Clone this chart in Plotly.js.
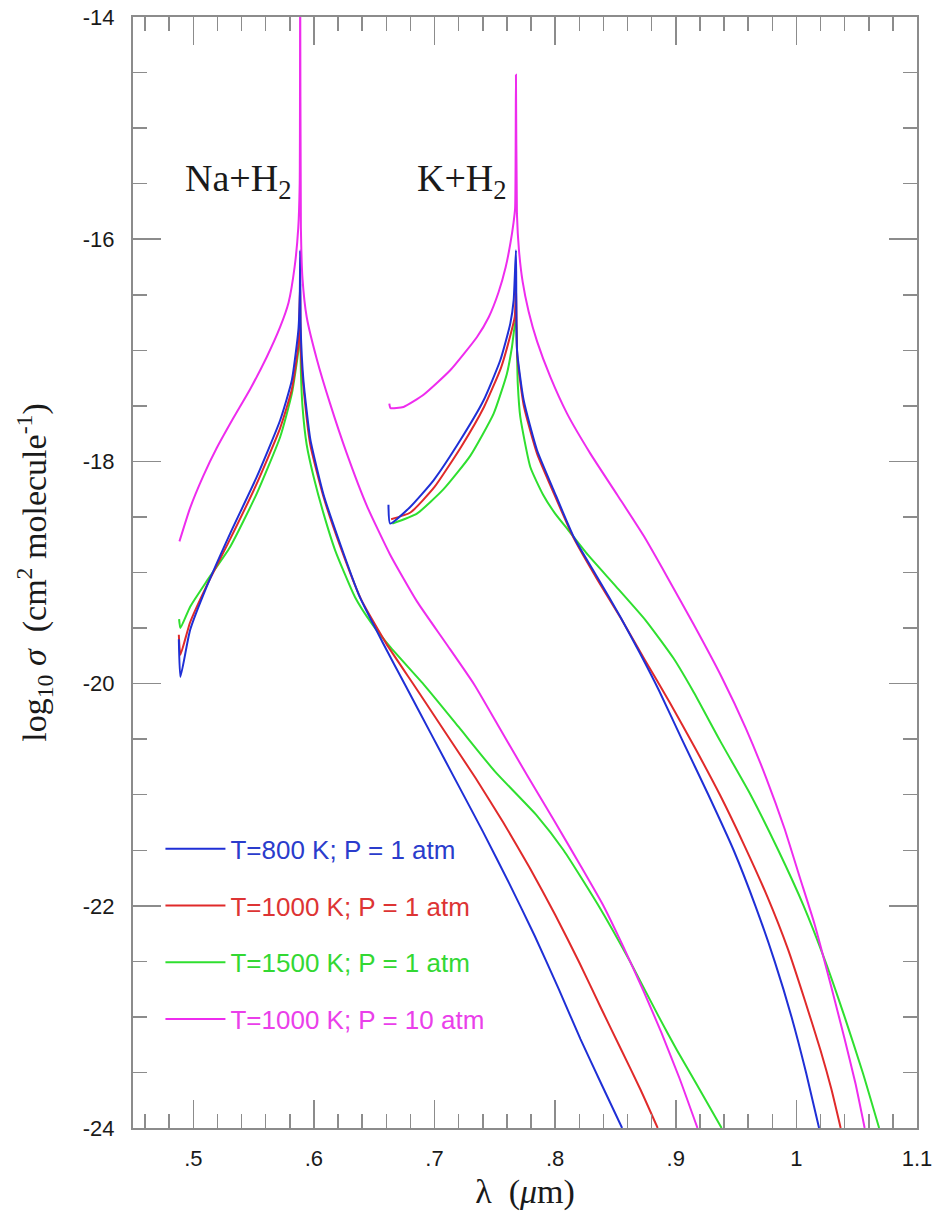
<!DOCTYPE html>
<html>
<head>
<meta charset="utf-8">
<script src="https://cdn.plot.ly/plotly-3.0.1.min.js"></script>
<style>
  html, body { margin: 0; padding: 0; background: #ffffff; }
  #chart { width: 934px; height: 1212px; }
</style>
</head>
<body>
<div id="chart"></div>
<script>
// ---------- data ----------
const seriesNames = [
  "T=800 K; P = 1 atm",
  "T=1000 K; P = 1 atm",
  "T=1500 K; P = 1 atm",
  "T=1000 K; P = 10 atm"
];
const seriesColors = ["#1f2fd6", "#e02a2a", "#2fdf2f", "#ee2cee"];
const labelColors  = ["#2a3ccc", "#dd3434", "#33d833", "#ea3fea"];

const xTickVals  = [0.5, 0.6, 0.7, 0.8, 0.9, 1.0, 1.1];
const xTickText  = [".5", ".6", ".7", ".8", ".9", "1", "1.1"];
const yTickVals  = [-24, -22, -20, -18, -16, -14];
const yTickText  = ["-24", "-22", "-20", "-18", "-16", "-14"];

// Na + H2, T=800 K, P=1 atm
const naBlueX = [0.4880, 0.4893, 0.4973, 0.511, 0.5305, 0.5526, 0.572, 0.5817, 0.5871, 0.5883, 0.5886,
                 0.5890, 0.5913, 0.597, 0.608, 0.622, 0.638, 0.657, 0.676, 0.697, 0.718, 0.740, 0.762, 0.783, 0.803, 0.821, 0.839, 0.8555];
const naBlueY = [-19.60, -19.94, -19.52, -19.13, -18.65, -18.14, -17.63, -17.27, -16.82, -16.5, -16.1,
                 -16.8, -17.27, -17.8, -18.3, -18.75, -19.22, -19.63, -20.02, -20.45, -20.88, -21.33, -21.80, -22.27, -22.75, -23.20, -23.62, -24.0];
// Na + H2, T=1000 K, P=1 atm
const naRedX = [0.4880, 0.4893, 0.4973, 0.511, 0.5305, 0.5526, 0.572, 0.5817, 0.5871, 0.5886,
                0.5891, 0.5915, 0.597, 0.608, 0.622, 0.639, 0.660, 0.684, 0.709, 0.734, 0.757, 0.779, 0.800, 0.820, 0.838, 0.855, 0.871, 0.885];
const naRedY = [-19.56, -19.74, -19.45, -19.12, -18.70, -18.20, -17.70, -17.35, -16.95, -16.4,
                -17.0, -17.35, -17.85, -18.32, -18.77, -19.24, -19.64, -20.03, -20.44, -20.85, -21.25, -21.66, -22.08, -22.51, -22.92, -23.30, -23.66, -24.0];
// Na + H2, T=1500 K, P=1 atm
const naGreenX = [0.4882, 0.4893, 0.4973, 0.511, 0.5305, 0.5526, 0.572, 0.5817, 0.5871, 0.5886,
                  0.5892, 0.5905, 0.594, 0.600, 0.608, 0.6176, 0.634, 0.648, 0.6632, 0.692, 0.720, 0.750, 0.785, 0.807, 0.836, 0.862, 0.886, 0.901, 0.918, 0.938];
const naGreenY = [-19.42, -19.50, -19.31, -19.08, -18.77, -18.29, -17.78, -17.39, -17.0, -16.7,
                  -17.2, -17.5, -17.85, -18.15, -18.47, -18.80, -19.22, -19.46, -19.67, -20.02, -20.39, -20.79, -21.19, -21.50, -22.0, -22.5, -23.0, -23.3, -23.62, -24.0];
// Na + H2, T=1000 K, P=10 atm
const naMagX = [0.4885, 0.4973, 0.5083, 0.5194, 0.5332, 0.5471, 0.5609, 0.572, 0.579, 0.5840, 0.5870, 0.5882, 0.5886,
                0.5892, 0.5905, 0.594, 0.6024, 0.6134, 0.6273, 0.6439, 0.6632, 0.6854, 0.709, 0.733, 0.755, 0.777, 0.799, 0.820, 0.840, 0.857, 0.873, 0.888, 0.903, 0.918];
const naMagY = [-18.72, -18.42, -18.13, -17.88, -17.61, -17.35, -17.06, -16.79, -16.57, -16.25, -15.9, -15.5, -13.5,
                -15.9, -16.35, -16.70, -17.08, -17.48, -17.93, -18.40, -18.84, -19.26, -19.63, -20.01, -20.42, -20.83, -21.23, -21.62, -22.0, -22.38, -22.76, -23.14, -23.55, -24.0];

// K + H2, T=800 K, P=1 atm
const kBlueX = [0.6618, 0.6632, 0.6798, 0.6992, 0.7213, 0.7407, 0.7545, 0.7628, 0.7656, 0.7675,
                0.7684, 0.7739, 0.785, 0.7988, 0.8154, 0.8348, 0.8541, 0.870, 0.886, 0.905, 0.927, 0.948, 0.966, 0.982, 0.996, 1.008, 1.0188];
const kBlueY = [-18.39, -18.56, -18.41, -18.17, -17.81, -17.45, -17.09, -16.76, -16.55, -16.1,
                -17.0, -17.45, -17.90, -18.26, -18.68, -19.04, -19.40, -19.72, -20.06, -20.5, -21.0, -21.5, -22.0, -22.5, -23.0, -23.5, -24.0];
// K + H2, T=1000 K, P=1 atm
const kRedX = [0.6640, 0.680, 0.700, 0.722, 0.741, 0.755, 0.763, 0.7665, 0.7675,
               0.7686, 0.774, 0.785, 0.799, 0.8154, 0.8348, 0.855, 0.874, 0.895, 0.916, 0.937, 0.957, 0.976, 0.993, 1.007, 1.020, 1.029, 1.0367];
const kRedY = [-18.52, -18.46, -18.23, -17.87, -17.51, -17.16, -16.86, -16.7, -16.4,
               -17.05, -17.5, -17.93, -18.29, -18.69, -19.06, -19.42, -19.78, -20.17, -20.58, -21.01, -21.46, -21.92, -22.39, -22.85, -23.30, -23.65, -24.0];
// K + H2, T=1500 K, P=1 atm
const kGreenX = [0.6650, 0.6854, 0.7075, 0.7296, 0.749, 0.760, 0.7642, 0.7675,
                 0.7690, 0.7711, 0.7794, 0.790, 0.800, 0.811, 0.827, 0.850, 0.875, 0.898, 0.915, 0.937, 0.962, 0.985, 1.006, 1.024, 1.040, 1.055, 1.0686];
const kGreenY = [-18.56, -18.47, -18.25, -17.95, -17.57, -17.21, -16.97, -16.7,
                 -17.3, -17.6, -18.05, -18.30, -18.47, -18.62, -18.84, -19.12, -19.43, -19.77, -20.08, -20.52, -21.0, -21.5, -22.0, -22.5, -23.0, -23.5, -24.0];
// K + H2, T=1000 K, P=10 atm
const kMagX = [0.6625, 0.6635, 0.6743, 0.6909, 0.713, 0.7352, 0.7450, 0.7530, 0.7590, 0.7630, 0.7655, 0.7668, 0.7675,
               0.7683, 0.7700, 0.7730, 0.7780, 0.7850, 0.796, 0.8099, 0.8292, 0.8514, 0.8734, 0.8929, 0.915, 0.938, 0.958, 0.975, 0.990, 1.003, 1.0152, 1.0287, 1.0400, 1.0490, 1.0566];
const kMagY = [-17.48, -17.52, -17.51, -17.40, -17.18, -16.88, -16.70, -16.48, -16.25, -16.03, -15.85, -15.72, -14.52,
               -15.77, -16.10, -16.38, -16.65, -16.92, -17.24, -17.57, -17.93, -18.30, -18.67, -19.04, -19.47, -19.94, -20.40, -20.85, -21.30, -21.75, -22.17, -22.72, -23.20, -23.60, -24.0];

const bandLabels = ["Na+H<sub>2</sub>", "K+H<sub>2</sub>"];
const bandLabelX = [0.537, 0.723];
const bandLabelY = [-15.48, -15.48];

// ---------- traces ----------
const naSets = [[naBlueX, naBlueY], [naRedX, naRedY], [naGreenX, naGreenY], [naMagX, naMagY]];
const kSets  = [[kBlueX, kBlueY], [kRedX, kRedY], [kGreenX, kGreenY], [kMagX, kMagY]];
const drawOrder = [2, 1, 0, 3];   // green, red, blue, magenta (magenta on top)

const traces = [];
drawOrder.forEach(function (i) {
  traces.push({
    type: "scatter", mode: "lines",
    x: naSets[i][0], y: naSets[i][1],
    line: { color: seriesColors[i], width: 2, shape: "spline", smoothing: 0.5 },
    name: '<span style="color:' + labelColors[i] + '">' + seriesNames[i] + '</span>',
    legendgroup: "g" + i, legendrank: i + 1, showlegend: true,
    hoverinfo: "skip"
  });
  traces.push({
    type: "scatter", mode: "lines",
    x: kSets[i][0], y: kSets[i][1],
    line: { color: seriesColors[i], width: 2, shape: "spline", smoothing: 0.5 },
    name: seriesNames[i], legendgroup: "g" + i, showlegend: false,
    hoverinfo: "skip"
  });
});

const axisGray = "#8c8c8c";
const tickFont = { family: "Liberation Sans, Arial, sans-serif", size: 22, color: "#1a1a1a" };
const serif = "Liberation Serif, Times New Roman, serif";

const layout = {
  width: 934, height: 1212,
  paper_bgcolor: "#ffffff", plot_bgcolor: "#ffffff",
  margin: { l: 133, r: 17, t: 17, b: 84, pad: 0 },
  showlegend: true,
  legend: {
    x: 0.035, y: 0.2725, xanchor: "left", yanchor: "top",
    bgcolor: "rgba(0,0,0,0)", borderwidth: 0,
    font: { family: "Liberation Sans, Arial, sans-serif", size: 26 },
    traceorder: "grouped", tracegroupgap: 20, itemwidth: 60
  },
  xaxis: {
    range: [0.45, 1.1], tickmode: "array", tickvals: xTickVals, ticktext: xTickText,
    ticks: "inside", ticklen: 28, tickwidth: 1.5, tickcolor: axisGray,
    showline: true, linecolor: axisGray, linewidth: 2, mirror: "allticks",
    showgrid: false, zeroline: false, tickfont: tickFont, ticklabelstandoff: 10,
    minor: { tickmode: "linear", tick0: 0.44, dtick: 0.02, ticks: "inside", ticklen: 14, tickwidth: 1.5, tickcolor: axisGray, showgrid: false },
    title: { text: "λ  (<i>μ</i>m)", font: { family: serif, size: 34, color: "#1a1a1a" }, standoff: 9 }
  },
  yaxis: {
    range: [-24, -14], tickmode: "array", tickvals: yTickVals, ticktext: yTickText,
    ticks: "inside", ticklen: 28, tickwidth: 1.5, tickcolor: axisGray,
    showline: true, linecolor: axisGray, linewidth: 2, mirror: "allticks",
    showgrid: false, zeroline: false, tickfont: tickFont, ticklabelstandoff: 12,
    minor: { tickmode: "linear", tick0: -24, dtick: 0.5, ticks: "inside", ticklen: 14, tickwidth: 1.5, tickcolor: axisGray, showgrid: false },
    title: { text: "log<sub>10</sub> <i>σ</i>  (cm<sup>2</sup> molecule<sup>-1</sup>)", font: { family: serif, size: 34, color: "#1a1a1a" }, standoff: 26 }
  },
  annotations: bandLabels.map(function (t, i) {
    return {
      text: t, x: bandLabelX[i], y: bandLabelY[i], xref: "x", yref: "y",
      showarrow: false, xanchor: "center", yanchor: "middle",
      font: { family: serif, size: 38, color: "#1a1a1a" }
    };
  })
};

Plotly.newPlot("chart", traces, layout, { displayModeBar: false, staticPlot: true });
</script>
</body>
</html>
